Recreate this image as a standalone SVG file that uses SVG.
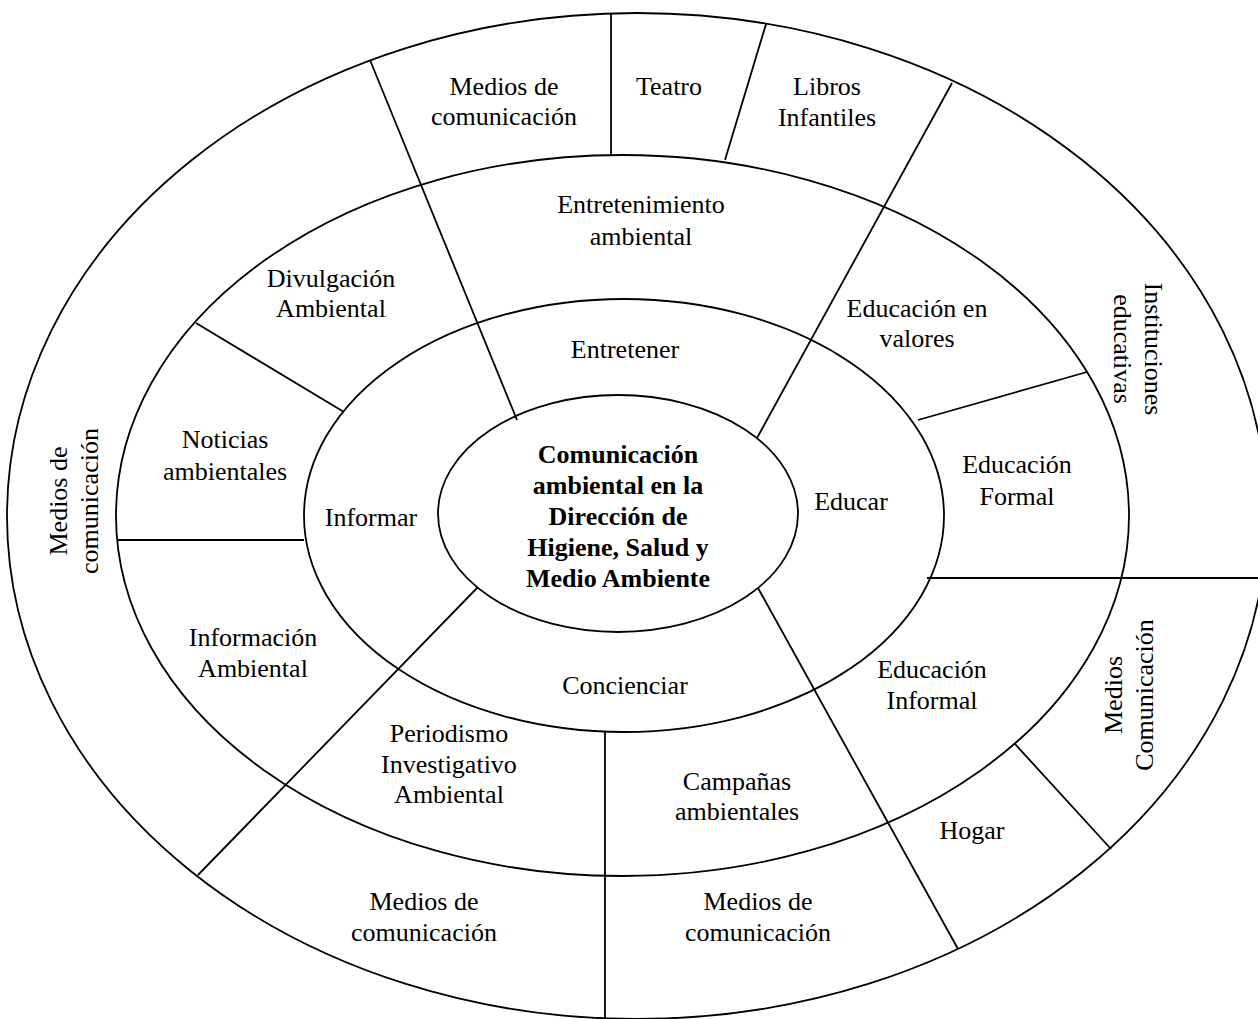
<svg xmlns="http://www.w3.org/2000/svg" width="1258" height="1019" viewBox="0 0 1258 1019">
<style>
.ring{fill:none;stroke:#000;stroke-width:1.8}
.div{stroke:#000;stroke-width:1.8;fill:none}
text{font-family:"Liberation Serif","Times New Roman",serif;font-size:26px;fill:#000;text-anchor:middle}
.b{font-weight:bold}
</style>
<rect width="1258" height="1019" fill="#fff"/>
<g id="rings">
<ellipse id="ring4" class="ring" cx="637" cy="516" rx="630" ry="503"/>
<ellipse id="ring3" class="ring" cx="622.5" cy="515.5" rx="506.5" ry="360.5"/>
<ellipse id="ring2" class="ring" cx="624" cy="515.5" rx="320" ry="216.5"/>
<ellipse id="ring1" class="ring" cx="618" cy="513.5" rx="180" ry="118.5"/>
</g>
<g id="connectors">
<line class="div" x1="611" y1="13" x2="611" y2="155"/>
<line class="div" x1="766" y1="24" x2="725" y2="160"/>
<line class="div" x1="370" y1="60" x2="517" y2="420"/>
<line class="div" x1="952" y1="83" x2="757" y2="438"/>
<line class="div" x1="196" y1="323" x2="344" y2="412"/>
<line class="div" x1="118" y1="540" x2="304" y2="540"/>
<line class="div" x1="478" y1="587" x2="198" y2="875"/>
<line class="div" x1="605" y1="732" x2="605" y2="1019"/>
<line class="div" x1="758" y1="588" x2="958" y2="949"/>
<line class="div" x1="927" y1="578" x2="1258" y2="578"/>
<line class="div" x1="918" y1="420" x2="1087" y2="372"/>
<line class="div" x1="1015" y1="744" x2="1111" y2="849"/>
</g>
<g id="center">
<text class="b" x="618" y="463">Comunicación</text>
<text class="b" x="618" y="494">ambiental en la</text>
<text class="b" x="618" y="525">Dirección de</text>
<text class="b" x="618" y="556">Higiene, Salud y</text>
<text class="b" x="618" y="587">Medio Ambiente</text>
</g>
<g id="ring2-labels">
<text x="625" y="358">Entretener</text>
<text x="371" y="526">Informar</text>
<text x="851" y="510">Educar</text>
<text x="625" y="694">Concienciar</text>
</g>
<g id="ring3-labels">
<text x="641" y="213">Entretenimiento</text>
<text x="641" y="245">ambiental</text>
<text x="331" y="287">Divulgación</text>
<text x="331" y="317">Ambiental</text>
<text x="225" y="448">Noticias</text>
<text x="225" y="480">ambientales</text>
<text x="253" y="646">Información</text>
<text x="253" y="677">Ambiental</text>
<text x="449" y="742">Periodismo</text>
<text x="449" y="773">Investigativo</text>
<text x="449" y="803">Ambiental</text>
<text x="737" y="790">Campañas</text>
<text x="737" y="820">ambientales</text>
<text x="932" y="678">Educación</text>
<text x="932" y="709">Informal</text>
<text x="917" y="317">Educación en</text>
<text x="917" y="347">valores</text>
<text x="1017" y="473">Educación</text>
<text x="1017" y="505">Formal</text>
</g>
<g id="ring4-labels">
<text x="504" y="95">Medios de</text>
<text x="504" y="125">comunicación</text>
<text x="669" y="95">Teatro</text>
<text x="827" y="95">Libros</text>
<text x="827" y="126">Infantiles</text>
<text transform="translate(1153,349) rotate(90)" x="0" y="8">Instituciones</text>
<text transform="translate(1122,349) rotate(90)" x="0" y="8">educativas</text>
<text transform="translate(59,501) rotate(-90)" x="0" y="8">Medios de</text>
<text transform="translate(90,501) rotate(-90)" x="0" y="8">comunicación</text>
<text transform="translate(1114,695) rotate(-90)" x="0" y="8">Medios</text>
<text transform="translate(1145,695) rotate(-90)" x="0" y="8">Comunicación</text>
<text x="972" y="839">Hogar</text>
<text x="424" y="910">Medios de</text>
<text x="424" y="941">comunicación</text>
<text x="758" y="910">Medios de</text>
<text x="758" y="941">comunicación</text>
</g>
</svg>
